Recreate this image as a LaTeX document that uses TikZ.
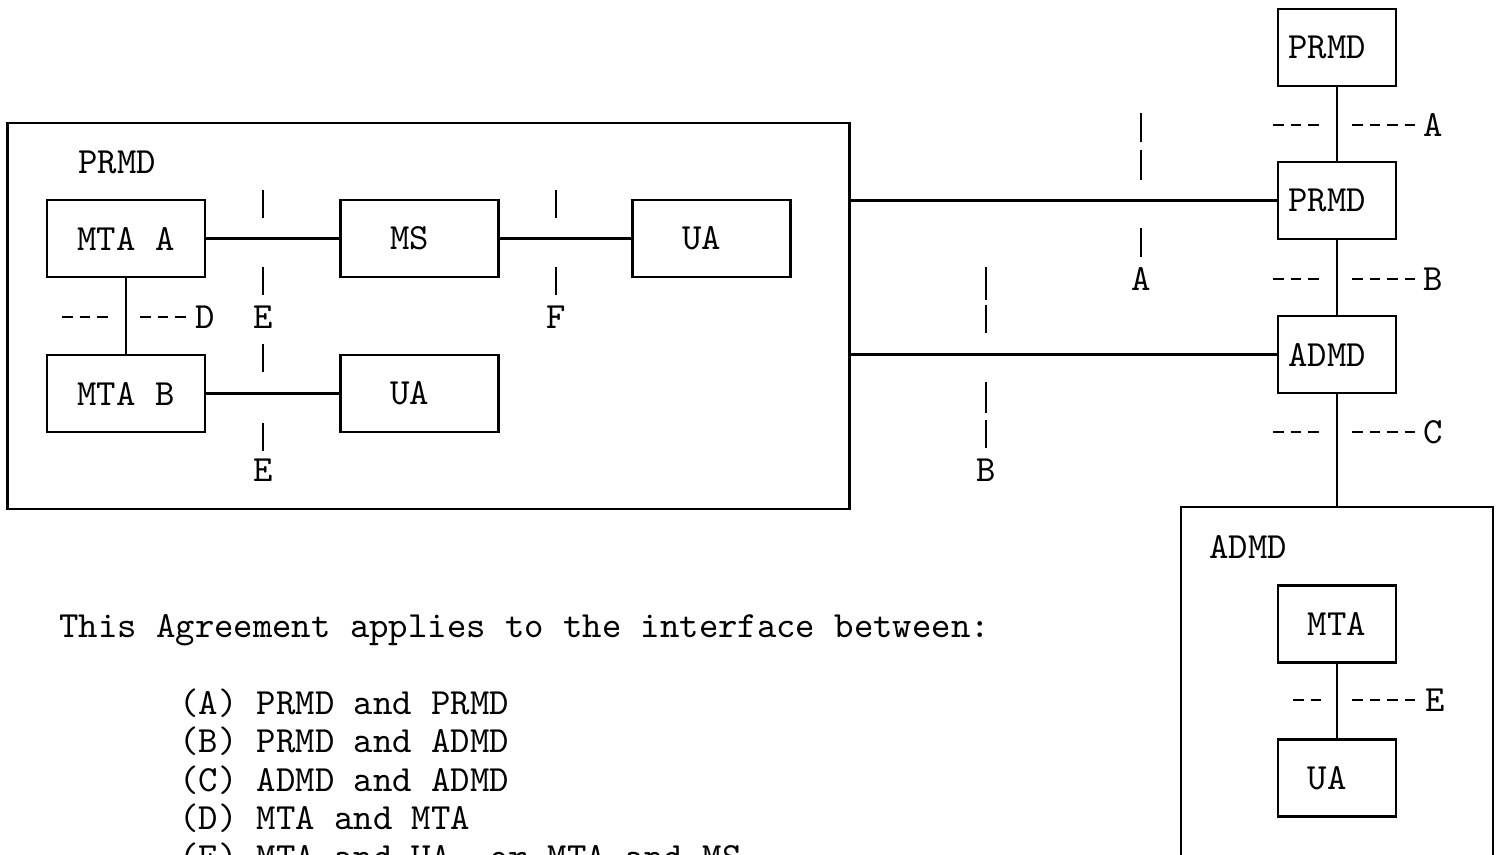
\documentclass[tikz,border=0pt]{standalone}
\usetikzlibrary{positioning}

\tikzset{
  unit/.style={draw, minimum width=1.58cm, minimum height=0.77cm, inner sep=0pt},
  mdbox/.style={draw, minimum width=1.18cm, minimum height=0.77cm, inner sep=0pt},
  tick/.style={dash pattern=on 3pt off 2pt},
  lbl/.style={inner sep=0pt}
}
% typed text sits a little left of the box middle
\newcommand{\lpad}[1]{#1\hspace*{0.2cm}}

\begin{document}
\begin{tikzpicture}[x=0.01cm, y=-0.01cm, line width=0.75pt,
    font=\fontsize{10.5}{12.6}\selectfont\ttfamily]
    \useasboundingbox (0,0) rectangle (1500,854);

    % private domain on the left
    \node[draw, minimum width=8.41cm, minimum height=3.86cm, inner sep=0pt] (prmdbox) at (428.5,316) {};
    \node[lbl] (prmdtxt) at (117,162) {PRMD};
    \node[unit] (mtaa) at (126,238.5) {MTA A};
    \node[unit] (ms) at (419.5,238.5) {\lpad{MS}};
    \node[unit] (uaa) at (711.5,238.5) {\lpad{UA}};
    \node[unit] (mtab) at (126,393.5) {MTA B};
    \node[unit] (uab) at (419.5,393.5) {\lpad{UA}};
    \draw (mtaa) -- (ms);
    \draw (ms) -- (uaa);
    \draw (mtaa) -- (mtab);
    \draw (mtab) -- (uab);

    % right column
    \node[mdbox] (prmd1) at (1337,47.5) {\lpad{PRMD}};
    \node[mdbox] (prmd2) at (1337,200.5) {\lpad{PRMD}};
    \node[mdbox] (admd1) at (1337,354.5) {\lpad{ADMD}};
    \draw (prmd1) -- (prmd2);
    \draw (prmd2) -- (admd1);
    \draw (prmdbox.east |- prmd2) -- (prmd2);
    \draw (prmdbox.east |- admd1) -- (admd1);

    % admin domain at the bottom
    \node[draw, minimum width=3.12cm, minimum height=3.93cm, inner sep=0pt] (admdbox) at (1337,703.5) {};
    \node[lbl] (admdtxt) at (1248,547) {ADMD};
    \node[mdbox] (mta) at (1337,624) {MTA};
    \node[mdbox] (ua) at (1337,778) {\lpad{UA}};
    \draw (admd1) -- (admdbox);
    \draw (mta) -- (ua);

    % interface marks, vertical
    \foreach \a/\b in {190/218, 267/295, 344/372, 423/451}
        \draw (263,\a) -- (263,\b);
    \node[lbl] (e1) at (263,317) {E};
    \node[lbl] (e2) at (263,470) {E};
    \foreach \a/\b in {190/218, 267/295}
        \draw (556,\a) -- (556,\b);
    \node[lbl] (f) at (556,317) {F};
    \foreach \a/\b in {113/142, 150/180, 228/257}
        \draw (1141,\a) -- (1141,\b);
    \node[lbl] (a1) at (1141,279) {A};
    \foreach \a/\b in {267/300, 305/333, 382/413, 420/448}
        \draw (986,\a) -- (986,\b);
    \node[lbl] (b1) at (986,470) {B};

    % interface marks, horizontal
    \draw[tick] (62,317) -- (112,317);
    \draw[tick] (140,317) -- (190,317);
    \node[lbl] (d) at (205,317) {D};
    \foreach \y/\t in {125/A, 279/B, 432/C} {
        \draw[tick] (1273,\y) -- (1322,\y);
        \draw[tick] (1352,\y) -- (1420,\y);
        \node[lbl] at (1433,\y) {\t};
    }
    \draw[tick] (1293,700) -- (1323,700);
    \draw[tick] (1352,700) -- (1420,700);
    \node[lbl] (e3) at (1435,700) {E};

    % legend
    \node[lbl, anchor=base west] (note) at (58,637) {This Agreement applies to the interface between:};
    \node[lbl, anchor=base west] (la) at (178,714) {(A) PRMD and PRMD};
    \node[lbl, anchor=base west] (lb) at (178,752) {(B) PRMD and ADMD};
    \node[lbl, anchor=base west] (lc) at (178,791) {(C) ADMD and ADMD};
    \node[lbl, anchor=base west] (ld) at (178,829) {(D) MTA and MTA};
    \node[lbl, anchor=base west] (le) at (178,868) {(E) MTA and UA, or MTA and MS};
\end{tikzpicture}
\end{document}
